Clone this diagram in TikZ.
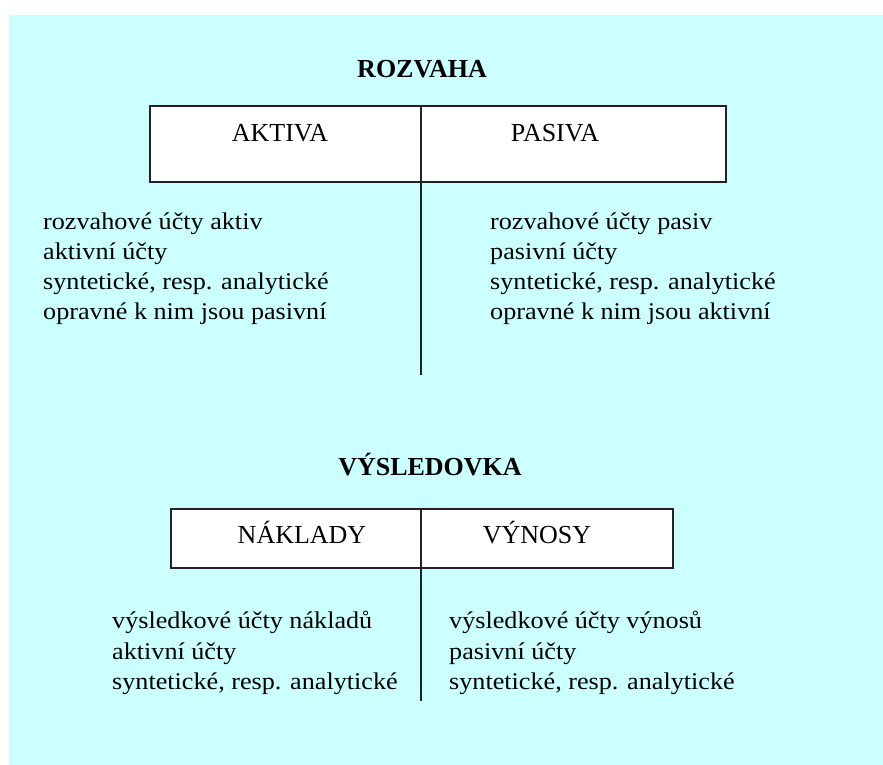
\documentclass[tikz,border=0pt]{standalone}
\usepackage{fontspec}
\setmainfont{Liberation Serif}
\newfontfamily\bodyfont[FakeStretch=1.09]{Liberation Serif}
\usetikzlibrary{calc}
\definecolor{panel}{HTML}{CCFFFF}
\definecolor{ink}{HTML}{222222}
\tikzset{
  x=1pt, y=-1pt,
  tbox/.style={draw=ink, line width=1.6pt, fill=white, inner sep=0, anchor=north west},
  rule/.style={draw=ink, line width=1.6pt},
  title/.style={font=\fontsize{26pt}{30pt}\selectfont\bfseries, anchor=base, inner sep=0},
  head/.style={font=\fontsize{26pt}{30pt}\selectfont, anchor=base, inner sep=0},
  body/.style={font=\bodyfont\fontsize{24pt}{30pt}\selectfont, anchor=base west, inner sep=0,
    align=left},
}
\begin{document}
\begin{tikzpicture}
\useasboundingbox (0,0) rectangle (883,765);
\fill[panel] (9,15) rectangle (883,765);

% ---- ROZVAHA ----
\node[title] (rtitle) at (422,78) {ROZVAHA};
\node[tbox, minimum width=576pt, minimum height=76pt] (rbox) at (149,105) {};
\coordinate (rend) at (421,375);
\draw[rule] (rbox.north -| rend) -- (rend);
\node[head] (aktiva) at (280,142) {AKTIVA};
\node[head] (pasiva) at (555,142) {PASIVA};

\node[body] (ra1) at (43,229) {rozvahové účty aktiv};
\node[body] (ra2) at (43,259) {aktivní účty};
\node[body] (ra3) at (43,289) {syntetické, resp. analytické};
\node[body] (ra4) at (43,319) {opravné k nim jsou pasivní};

\node[body] (rp1) at (490,229) {rozvahové účty pasiv};
\node[body] (rp2) at (490,259) {pasivní účty};
\node[body] (rp3) at (490,289) {syntetické, resp. analytické};
\node[body] (rp4) at (490,319) {opravné k nim jsou aktivní};

% ---- VÝSLEDOVKA ----
\node[title] (vtitle) at (430,475) {VÝSLEDOVKA};
\node[tbox, minimum width=502pt, minimum height=59pt] (vbox) at (170,508) {};
\coordinate (vend) at (421,701);
\draw[rule] (vbox.north -| vend) -- (vend);
\node[head] (naklady) at (302,543) {NÁKLADY};
\node[head] (vynosy) at (537,543) {VÝNOSY};

\node[body] (vn1) at (112,628) {výsledkové účty nákladů};
\node[body] (vn2) at (112,659) {aktivní účty};
\node[body] (vn3) at (112,689) {syntetické, resp. analytické};

\node[body] (vv1) at (449,628) {výsledkové účty výnosů};
\node[body] (vv2) at (449,659) {pasivní účty};
\node[body] (vv3) at (449,689) {syntetické, resp. analytické};
\end{tikzpicture}
\end{document}
